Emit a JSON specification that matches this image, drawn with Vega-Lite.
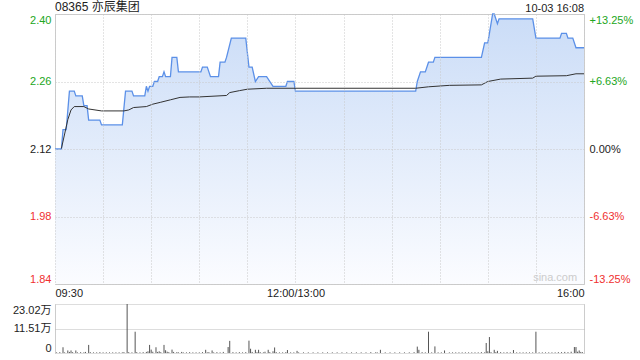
{
  "$schema": "https://vega.github.io/schema/vega-lite/v6.json",
  "background": "white",
  "padding": {"left": 12, "top": 0, "right": 5, "bottom": 0},
  "spacing": 4,
  "config": {
    "font": "Liberation Sans, Noto Sans CJK SC",
    "view": {"stroke": "#cccccc"},
    "axis": {"labelFontSize": 11, "ticks": false, "domain": false, "gridColor": "#c8c8c8", "labelColor": "#222222"}
  },
  "datasets": {
    "price": [
      {"m":0,"p":2.12},{"m":4,"p":2.12},{"m":5,"p":2.16},{"m":7,"p":2.16},{"m":9,"p":2.24},{"m":12,"p":2.24},{"m":13,"p":2.23},{"m":17,"p":2.23},{"m":18,"p":2.21},{"m":20,"p":2.21},{"m":21,"p":2.18},{"m":28,"p":2.18},{"m":29,"p":2.17},{"m":42,"p":2.17},{"m":44,"p":2.24},{"m":48,"p":2.24},{"m":49,"p":2.23},{"m":56,"p":2.23},{"m":57,"p":2.25},{"m":58,"p":2.24},{"m":59,"p":2.25},{"m":61,"p":2.25},{"m":62,"p":2.26},{"m":64,"p":2.26},{"m":65,"p":2.27},{"m":67,"p":2.27},{"m":68,"p":2.28},{"m":69,"p":2.27},{"m":72,"p":2.27},{"m":73,"p":2.31},{"m":76,"p":2.31},{"m":77,"p":2.28},{"m":91,"p":2.28},{"m":92,"p":2.29},{"m":95,"p":2.29},{"m":97,"p":2.27},{"m":102,"p":2.27},{"m":103,"p":2.30},{"m":106,"p":2.30},{"m":107,"p":2.31},{"m":110,"p":2.35},{"m":119,"p":2.35},{"m":121,"p":2.29},{"m":123,"p":2.29},{"m":125,"p":2.26},{"m":127,"p":2.27},{"m":132,"p":2.27},{"m":136,"p":2.25},{"m":144,"p":2.25},{"m":145,"p":2.26},{"m":149,"p":2.26},{"m":150,"p":2.24},{"m":225,"p":2.24},{"m":226,"p":2.26},{"m":228,"p":2.28},{"m":231,"p":2.28},{"m":233,"p":2.30},{"m":236,"p":2.30},{"m":237,"p":2.31},{"m":266,"p":2.31},{"m":268,"p":2.34},{"m":270,"p":2.34},{"m":271,"p":2.36},{"m":273,"p":2.40},{"m":274,"p":2.40},{"m":276,"p":2.38},{"m":277,"p":2.39},{"m":298,"p":2.39},{"m":300,"p":2.35},{"m":315,"p":2.35},{"m":316,"p":2.36},{"m":319,"p":2.36},{"m":320,"p":2.35},{"m":323,"p":2.35},{"m":325,"p":2.33},{"m":330,"p":2.33}
    ],
    "avg": [
      {"m":4,"a":2.121},{"m":8,"a":2.181},{"m":10,"a":2.201},{"m":12,"a":2.208},{"m":18,"a":2.208},{"m":21,"a":2.203},{"m":29,"a":2.199},{"m":43,"a":2.199},{"m":46,"a":2.201},{"m":49,"a":2.206},{"m":57,"a":2.208},{"m":61,"a":2.213},{"m":66,"a":2.217},{"m":72,"a":2.222},{"m":78,"a":2.227},{"m":84,"a":2.228},{"m":90,"a":2.228},{"m":107,"a":2.231},{"m":109,"a":2.237},{"m":115,"a":2.241},{"m":120,"a":2.244},{"m":132,"a":2.246},{"m":225,"a":2.246},{"m":233,"a":2.249},{"m":246,"a":2.252},{"m":266,"a":2.253},{"m":270,"a":2.260},{"m":278,"a":2.265},{"m":298,"a":2.267},{"m":300,"a":2.271},{"m":319,"a":2.272},{"m":325,"a":2.276},{"m":330,"a":2.276}
    ],
    "vol": [
      {"m":1,"v":0.3},{"m":3,"v":0.4},{"m":5,"v":2.7},{"m":6,"v":0.3},{"m":8,"v":1.2},{"m":9,"v":0.5},{"m":10,"v":1.2},{"m":11,"v":0.4},{"m":13,"v":1.2},{"m":14,"v":0.3},{"m":16,"v":0.4},{"m":18,"v":0.3},{"m":19,"v":0.5},{"m":21,"v":3.8},{"m":22,"v":0.4},{"m":24,"v":0.3},{"m":26,"v":0.3},{"m":28,"v":0.4},{"m":30,"v":0.3},{"m":32,"v":0.3},{"m":34,"v":0.3},{"m":36,"v":0.3},{"m":38,"v":0.3},{"m":40,"v":0.3},{"m":42,"v":0.3},{"m":43,"v":0.4},{"m":45,"v":23.02},{"m":46,"v":0.4},{"m":48,"v":0.3},{"m":50,"v":10.0},{"m":51,"v":0.4},{"m":53,"v":0.3},{"m":55,"v":0.4},{"m":57,"v":0.5},{"m":58,"v":0.8},{"m":59,"v":3.8},{"m":60,"v":1.6},{"m":61,"v":0.6},{"m":63,"v":2.7},{"m":64,"v":0.5},{"m":65,"v":0.8},{"m":66,"v":0.4},{"m":68,"v":3.8},{"m":69,"v":1.3},{"m":70,"v":0.6},{"m":71,"v":0.4},{"m":73,"v":1.6},{"m":74,"v":0.5},{"m":76,"v":0.4},{"m":77,"v":0.3},{"m":79,"v":0.5},{"m":80,"v":0.3},{"m":82,"v":0.3},{"m":84,"v":0.4},{"m":86,"v":0.3},{"m":88,"v":0.3},{"m":90,"v":0.3},{"m":92,"v":0.4},{"m":94,"v":1.5},{"m":95,"v":0.3},{"m":96,"v":0.4},{"m":98,"v":1.2},{"m":99,"v":0.3},{"m":101,"v":0.4},{"m":103,"v":0.3},{"m":105,"v":0.5},{"m":108,"v":2.8},{"m":109,"v":5.7},{"m":111,"v":0.4},{"m":113,"v":0.3},{"m":115,"v":0.4},{"m":117,"v":0.3},{"m":119,"v":0.4},{"m":121,"v":5.8},{"m":122,"v":2.0},{"m":123,"v":0.5},{"m":125,"v":1.5},{"m":126,"v":0.4},{"m":127,"v":1.5},{"m":128,"v":0.4},{"m":130,"v":0.3},{"m":131,"v":0.6},{"m":133,"v":1.5},{"m":134,"v":0.4},{"m":136,"v":0.8},{"m":137,"v":2.6},{"m":138,"v":0.4},{"m":140,"v":0.3},{"m":142,"v":0.3},{"m":144,"v":0.4},{"m":145,"v":1.4},{"m":147,"v":0.3},{"m":149,"v":0.3},{"m":151,"v":1.0},{"m":152,"v":0.3},{"m":155,"v":0.3},{"m":158,"v":0.3},{"m":161,"v":0.3},{"m":164,"v":0.3},{"m":167,"v":0.3},{"m":170,"v":0.3},{"m":173,"v":0.3},{"m":176,"v":0.3},{"m":179,"v":0.3},{"m":182,"v":0.3},{"m":185,"v":0.3},{"m":188,"v":0.3},{"m":191,"v":0.3},{"m":194,"v":0.3},{"m":197,"v":0.4},{"m":200,"v":0.3},{"m":201,"v":0.3},{"m":203,"v":1.5},{"m":206,"v":0.3},{"m":209,"v":0.3},{"m":212,"v":0.3},{"m":215,"v":0.3},{"m":218,"v":0.3},{"m":221,"v":0.3},{"m":224,"v":0.4},{"m":226,"v":3.0},{"m":227,"v":1.5},{"m":229,"v":0.4},{"m":231,"v":0.3},{"m":233,"v":10.0},{"m":235,"v":0.3},{"m":237,"v":3.1},{"m":239,"v":0.3},{"m":241,"v":0.3},{"m":243,"v":1.2},{"m":246,"v":0.3},{"m":248,"v":0.3},{"m":250,"v":0.3},{"m":252,"v":0.3},{"m":254,"v":0.3},{"m":256,"v":0.3},{"m":258,"v":0.3},{"m":260,"v":0.3},{"m":262,"v":0.3},{"m":264,"v":0.3},{"m":266,"v":0.4},{"m":268,"v":0.3},{"m":269,"v":4.7},{"m":270,"v":0.8},{"m":271,"v":7.5},{"m":272,"v":0.4},{"m":274,"v":1.5},{"m":275,"v":0.4},{"m":276,"v":1.0},{"m":278,"v":0.4},{"m":280,"v":0.3},{"m":282,"v":0.4},{"m":284,"v":0.3},{"m":286,"v":1.4},{"m":288,"v":0.3},{"m":290,"v":0.3},{"m":292,"v":0.3},{"m":294,"v":0.3},{"m":296,"v":0.3},{"m":298,"v":0.3},{"m":300,"v":10.0},{"m":302,"v":0.3},{"m":304,"v":0.3},{"m":306,"v":0.3},{"m":308,"v":0.3},{"m":310,"v":0.3},{"m":312,"v":0.3},{"m":314,"v":0.4},{"m":316,"v":0.4},{"m":318,"v":0.5},{"m":320,"v":0.4},{"m":322,"v":0.6},{"m":324,"v":2.8},{"m":325,"v":2.8},{"m":326,"v":0.6},{"m":327,"v":1.2},{"m":328,"v":0.5},{"m":329,"v":0.4}
    ]
  },
  "vconcat": [
    {
      "width": 529,
      "height": 270,
      "layer": [
        {
          "layer": [
            {
              "data": {"name": "price"},
              "mark": {"type": "area", "color": {"gradient": "linear", "x1": 0, "y1": 0, "x2": 0, "y2": 1, "stops": [{"offset": 0, "color": "#cadcf7"}, {"offset": 1, "color": "#fbfcff"}]}},
              "encoding": {
                "x": {"field": "m", "type": "quantitative", "scale": {"domain": [0, 330], "nice": false, "zero": false},
                  "axis": {"title": null, "values": [0,30,60,90,120,150,180,210,240,270,300,330], "labelExpr": "datum.value == 0 ? '09:30' : datum.value == 150 ? '12:00/13:00' : datum.value == 330 ? '16:00' : ''", "labelFlush": true, "labelPadding": 3, "grid": true, "gridDash": [1, 2], "zindex": 1}},
                "y": {"field": "p", "type": "quantitative", "scale": {"domain": [1.84, 2.40], "nice": false, "zero": false},
                  "axis": {"title": null, "values": [1.84, 1.98, 2.12, 2.26, 2.40], "format": ".2f", "labelFlush": true, "labelPadding": 4, "grid": true, "gridDash": [1, 2], "zindex": 1,
                    "labelColor": {"condition": [{"test": "datum.value > 2.13", "value": "#22a622"}, {"test": "datum.value < 2.11", "value": "#f03030"}], "value": "#222222"}}},
                "y2": {"datum": 1.84}
              }
            },
            {
              "mark": {"type": "rule", "color": "#aaaaaa", "strokeDash": [4, 3], "strokeWidth": 1},
              "encoding": {"y": {"datum": 2.12}}
            },
            {
              "data": {"name": "price"},
              "mark": {"type": "line", "color": "#5b90e8", "strokeWidth": 1.3},
              "encoding": {"x": {"field": "m", "type": "quantitative"}, "y": {"field": "p", "type": "quantitative"}}
            },
            {
              "data": {"name": "avg"},
              "mark": {"type": "line", "color": "#333333", "strokeWidth": 1},
              "encoding": {"x": {"field": "m", "type": "quantitative"}, "y": {"field": "a", "type": "quantitative"}}
            },
            {
              "data": {"values": [{"m": 312, "p": 1.853, "t": "sina.com"}]},
              "mark": {"type": "text", "color": "#cccccc", "fontSize": 11, "align": "center", "baseline": "middle"},
              "encoding": {"x": {"field": "m", "type": "quantitative"}, "y": {"field": "p", "type": "quantitative"}, "text": {"field": "t"}}
            },
            {
              "data": {"values": [{"m": 0, "p": 2.40, "t": "08365 亦辰集团"}]},
              "mark": {"type": "text", "color": "#222222", "fontSize": 12, "align": "left", "baseline": "bottom", "dy": 0},
              "encoding": {"x": {"field": "m", "type": "quantitative"}, "y": {"field": "p", "type": "quantitative"}, "text": {"field": "t"}}
            },
            {
              "data": {"values": [{"m": 330, "p": 2.40, "t": "10-03 16:08"}]},
              "mark": {"type": "text", "color": "#222222", "fontSize": 11, "align": "right", "baseline": "bottom", "dy": 0},
              "encoding": {"x": {"field": "m", "type": "quantitative"}, "y": {"field": "p", "type": "quantitative"}, "text": {"field": "t"}}
            }
          ]
        },
        {
          "data": {"name": "price"},
          "mark": {"type": "line", "opacity": 0},
          "encoding": {
            "x": {"field": "m", "type": "quantitative"},
            "y": {"field": "p", "type": "quantitative", "scale": {"domain": [1.84, 2.40], "nice": false, "zero": false},
              "axis": {"orient": "right", "title": null, "grid": false, "values": [1.84, 1.98, 2.12, 2.26, 2.40], "labelFlush": true, "labelPadding": 5,
                "labelExpr": "datum.value > 2.3 ? '+13.25%' : datum.value > 2.2 ? '+6.63%' : datum.value > 2.1 ? '0.00%' : datum.value > 1.9 ? '-6.63%' : '-13.25%'",
                "labelColor": {"condition": [{"test": "datum.value > 2.13", "value": "#22a622"}, {"test": "datum.value < 2.11", "value": "#f03030"}], "value": "#222222"}}}
          }
        }
      ],
      "resolve": {"scale": {"y": "independent"}}
    },
    {
      "width": 529,
      "height": 49,
      "view": {"stroke": null},
      "data": {"name": "vol"},
      "mark": {"type": "rule", "color": "#555555", "strokeWidth": 1},
      "encoding": {
        "x": {"field": "m", "type": "quantitative", "scale": {"domain": [0, 330], "nice": false, "zero": false},
          "axis": {"title": null, "values": [0, 330], "labels": false, "grid": true, "gridColor": "#cccccc"}},
        "y": {"field": "v", "type": "quantitative", "scale": {"domain": [0, 23.02], "nice": false},
          "axis": {"title": null, "values": [0, 11.51, 23.02], "labelFlush": true, "labelPadding": 4, "grid": true, "gridDash": [1, 1], "gridColor": "#bbbbbb",
            "labelExpr": "datum.value == 0 ? '0' : datum.value < 20 ? '11.51万' : '23.02万'"}},
        "y2": {"datum": 0}
      }
    }
  ]
}
